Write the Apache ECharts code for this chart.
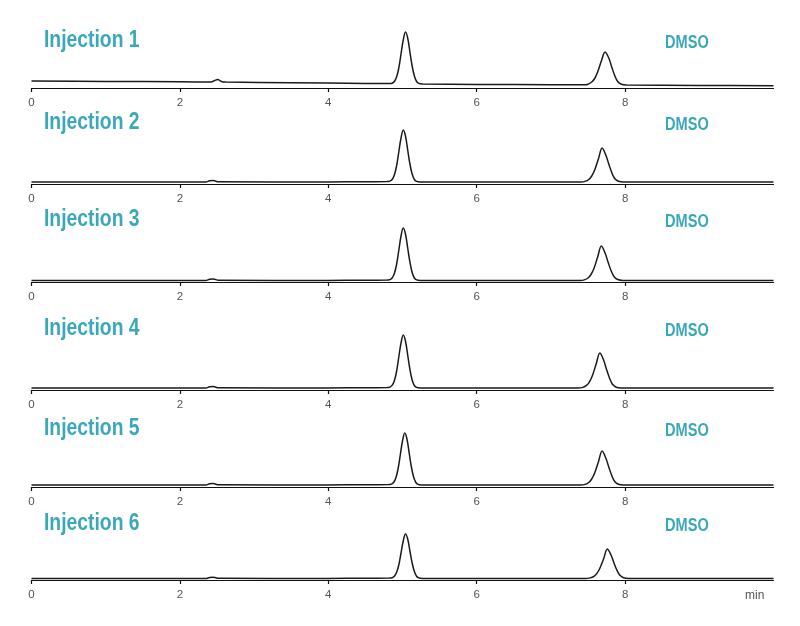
<!DOCTYPE html>
<html><head><meta charset="utf-8">
<script src="https://cdn.jsdelivr.net/npm/echarts@6/dist/echarts.min.js"></script>
<style>html,body{margin:0;padding:0;background:#fff}#c{width:800px;height:626px}</style>
</head><body><div id="c"></div>
<script>
// Chromatogram traces: [time (min), signal]
const injectionNames = ['Injection 1','Injection 2','Injection 3','Injection 4','Injection 5','Injection 6'];
const peakLabel = 'DMSO';
const tickValues = [0, 2, 4, 6, 8];
const xUnit = 'min';

const inj1 = [[0,7],[1,6.6],[2,6.2],[2.42,6],[2.47,7.5],[2.51,8.5],[2.56,6.5],[2.62,5.9],[3.5,5.3],[4.5,4.6],[4.82,4.4],[4.86,4.8],[4.89,6.5],[4.92,11],[4.95,20],[4.98,34],[5.01,48],[5.04,56],[5.07,50],[5.10,36],[5.13,22],[5.16,12],[5.19,6.5],[5.22,4.6],[5.27,4.1],[6,3.6],[7,3.3],[7.45,3.2],[7.50,3.8],[7.55,6],[7.59,9.5],[7.63,16],[7.68,27],[7.73,36],[7.78,30],[7.82,21],[7.86,12.5],[7.90,6.5],[7.95,3.8],[8.02,3.1],[9,2.6],[10,2.2]];
const inj2 = [[0,2],[2,2],[2.35,2],[2.4,3.2],[2.45,3.4],[2.52,2.2],[4,2.1],[4.5,2.3],[4.79,2.4],[4.83,2.9],[4.86,4.5],[4.89,9],[4.92,18],[4.95,32],[4.98,46],[5.01,54],[5.04,48],[5.07,34],[5.10,20],[5.13,10],[5.16,4.5],[5.19,2.6],[5.24,2.1],[6,2],[7.4,2],[7.46,2.6],[7.51,4.5],[7.55,8],[7.59,14],[7.64,25],[7.69,36],[7.74,29],[7.78,20],[7.82,11.5],[7.86,5.5],[7.91,2.8],[7.98,2.1],[10,2]];
const inj3 = [[0,1.5],[2,1.5],[2.35,1.5],[2.4,2.8],[2.45,3],[2.52,1.7],[4,1.6],[4.5,1.8],[4.79,1.9],[4.83,2.4],[4.86,4],[4.89,8.5],[4.92,17.5],[4.95,31.5],[4.98,46],[5.01,54],[5.04,48],[5.07,34],[5.10,20],[5.13,9.5],[5.16,4],[5.19,2.1],[5.24,1.6],[6,1.5],[7.4,1.5],[7.45,2.1],[7.50,4],[7.54,7.5],[7.58,13.5],[7.63,25],[7.68,36],[7.73,29],[7.77,20],[7.81,11.5],[7.85,5.5],[7.90,2.5],[7.97,1.6],[10,1.5]];
const inj4 = [[0,2],[2,2],[2.35,2],[2.4,3.2],[2.45,3.4],[2.52,2.2],[4,2.1],[4.5,2.3],[4.79,2.4],[4.83,2.9],[4.86,4.6],[4.89,9.2],[4.92,18.5],[4.95,33],[4.98,47],[5.01,55],[5.04,49],[5.07,35],[5.10,20.5],[5.13,10],[5.16,4.5],[5.19,2.6],[5.24,2.1],[6,2],[7.37,2],[7.43,2.6],[7.48,4.6],[7.52,8.2],[7.56,14.5],[7.61,26],[7.66,37],[7.71,30],[7.75,20.5],[7.79,12],[7.83,5.7],[7.88,2.8],[7.95,2.1],[10,2]];
const inj5 = [[0,2],[2,2],[2.35,2],[2.4,3.2],[2.45,3.4],[2.52,2.2],[4,2.1],[4.5,2.3],[4.81,2.4],[4.85,2.9],[4.88,4.5],[4.91,9],[4.94,18],[4.97,32],[5.00,46],[5.03,54],[5.06,48],[5.09,34],[5.12,20],[5.15,10],[5.18,4.5],[5.21,2.6],[5.26,2.1],[6,2],[7.4,2],[7.46,2.6],[7.51,4.5],[7.55,8],[7.59,14],[7.64,25],[7.69,36],[7.74,29],[7.78,20],[7.82,11.5],[7.86,5.5],[7.91,2.8],[7.98,2.1],[10,2]];
const inj6 = [[0,1.5],[2,1.5],[2.35,1.5],[2.4,2.6],[2.45,2.8],[2.52,1.7],[4,1.6],[4.5,1.8],[4.82,1.9],[4.86,2.3],[4.89,3.8],[4.92,7.5],[4.95,15],[4.98,27],[5.01,39],[5.04,46],[5.07,41],[5.10,29],[5.13,17],[5.16,8.5],[5.19,3.8],[5.22,2.1],[5.27,1.6],[6,1.5],[7.47,1.5],[7.53,2.1],[7.58,3.7],[7.62,6.6],[7.66,11.8],[7.71,21],[7.76,31],[7.81,25],[7.85,17],[7.89,9.8],[7.93,4.7],[7.98,2.2],[8.05,1.6],[10,1.5]];
const traces = [inj1, inj2, inj3, inj4, inj5, inj6];

const axisY = [88, 184, 282, 390, 487, 580];
const titleY = [41, 123, 220, 329, 429, 524];
const teal = '#3aa8b8';
const gridH = 60;

const grids = [], xAxes = [], yAxes = [], series = [], graphics = [];
traces.forEach((d, i) => {
  grids.push({left: 31.5, width: 742, top: axisY[i] - gridH, height: gridH});
  xAxes.push({
    type: 'value', gridIndex: i, min: 0, max: 10,
    axisLine: {lineStyle: {color: '#111', width: 1.2}},
    axisTick: {customValues: tickValues, length: 4, lineStyle: {color: '#111', width: 1.2}},
    axisLabel: {customValues: tickValues, color: '#555', fontSize: 11.5, margin: 9, fontFamily: 'Liberation Sans, Arial, sans-serif'},
    splitLine: {show: false}
  });
  yAxes.push({type: 'value', gridIndex: i, min: 0, max: gridH, show: false});
  series.push({
    type: 'line', xAxisIndex: i, yAxisIndex: i, data: d,
    showSymbol: false, smooth: 0.35, silent: true,
    lineStyle: {color: '#1a1a1a', width: 1.5}
  });
  graphics.push({type: 'text', x: 44, y: titleY[i], scaleX: 0.84,
    style: {text: injectionNames[i], fill: teal, textVerticalAlign: 'middle',
      font: 'bold 23px "Liberation Sans", Arial, sans-serif'}});
  graphics.push({type: 'text', x: 665, y: titleY[i] + 2, scaleX: 0.81,
    style: {text: peakLabel, fill: teal, textVerticalAlign: 'middle',
      font: 'bold 18px "Liberation Sans", Arial, sans-serif'}});
});
graphics.push({type: 'text', x: 745, y: 596,
  style: {text: xUnit, fill: '#555', textVerticalAlign: 'middle', font: '12px "Liberation Sans", Arial, sans-serif'}});

const chart = echarts.init(document.getElementById('c'), null, {renderer: 'canvas'});
chart.setOption({
  animation: false,
  backgroundColor: '#fff',
  grid: grids, xAxis: xAxes, yAxis: yAxes, series: series, graphic: graphics
});
</script></body></html>
